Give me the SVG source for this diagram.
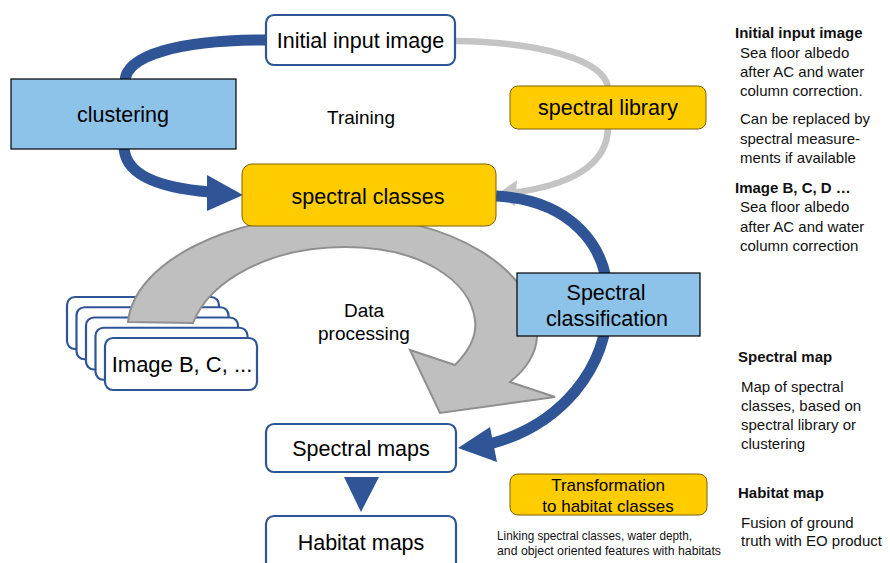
<svg xmlns="http://www.w3.org/2000/svg" width="890" height="563" viewBox="0 0 890 563">
<style>
.t{font-family:"Liberation Sans",Arial,sans-serif;fill:#000;text-anchor:middle}
.big{font-size:21.5px}
.mid{font-size:19px}
.side{font-family:"Liberation Sans",Arial,sans-serif;font-size:15px;fill:#111}
.b{font-weight:bold}
.wbox{fill:#fff;stroke:#2F5597;stroke-width:2.2}
.ybox{fill:#FFCC00;stroke:#7F6000;stroke-width:1}
.lbox{fill:#8DC3E8;stroke:#000;stroke-width:1.2}
.blue{fill:none;stroke:#2F5597;stroke-width:11}
.gray{fill:none;stroke:#C4C4C4;stroke-width:6.5}
</style>
<rect width="890" height="563" fill="#fff"/>

<g id="connectors">
  <path class="blue" d="M266,40 C180,40 125,55 125,82"/>
  <path class="blue" d="M124,146 C124,175 160,188 210,192"/>
  <polygon points="207,175 243,195 207,211" fill="#2F5597"/>
  <path class="gray" d="M455,41 C540,42 605,60 608,88"/>
  <path class="gray" d="M608,127 C608,165 570,186 510,193"/>
  <polygon points="496,195 517,180 515,206" fill="#C4C4C4"/>
  <path class="blue" d="M496,196 C570,200 608,245 608,300 C608,370 560,425 490,444"/>
  <polygon points="458,448 490,427 497,462" fill="#2F5597"/>
  <polygon points="344,477 379,477 361,512" fill="#2F5597"/>
</g>

<g id="image-stack">
  <rect class="wbox" x="67" y="297" width="152" height="52" rx="8"/>
  <rect class="wbox" x="76.5" y="307.25" width="152" height="52" rx="8"/>
  <rect class="wbox" x="86" y="317.5" width="152" height="52" rx="8"/>
  <rect class="wbox" x="95.5" y="327.75" width="152" height="52" rx="8"/>
  <rect class="wbox" x="105" y="338" width="152" height="52" rx="8"/>
  <text class="t" font-size="22" x="182" y="371.5">Image B, C, ...</text>
</g>

<g id="data-processing">
  <path d="M128,322 C134,262 230,215 335,215 C450,215 540,270 537,337 C536,355 525,370 510,382 L555,397 L440,413 L410,350 L455,365 C470,350 477,335 475,320 C470,280 420,247 345,247 C270,247 210,280 193,323 Z" fill="#BFBFBF" stroke="#8F8F8F" stroke-width="2" stroke-linejoin="miter"/>
  <text class="t mid" x="364" y="317">Data</text>
  <text class="t mid" x="364" y="340">processing</text>
</g>

<g id="initial-input-image">
  <rect class="wbox" x="266" y="15" width="189" height="50" rx="8"/>
  <text class="t big" x="360.5" y="47.5">Initial input image</text>
</g>

<g id="clustering">
  <rect class="lbox" x="11" y="79" width="225" height="70"/>
  <text class="t big" x="123" y="122">clustering</text>
</g>

<g id="training">
  <text class="t mid" x="361" y="123.5">Training</text>
</g>

<g id="spectral-library">
  <rect class="ybox" x="510" y="86" width="196" height="43" rx="8"/>
  <text class="t big" x="608" y="114.5">spectral library</text>
</g>

<g id="spectral-classes">
  <rect class="ybox" x="242" y="164" width="254" height="62" rx="10"/>
  <text class="t big" x="368" y="203.5">spectral classes</text>
</g>

<g id="spectral-classification">
  <rect class="lbox" x="517" y="273" width="183" height="63"/>
  <text class="t big" x="606" y="299.5">Spectral</text>
  <text class="t big" x="607" y="325.5">classification</text>
</g>

<g id="spectral-maps">
  <rect class="wbox" x="266" y="424" width="190" height="48" rx="8"/>
  <text class="t big" x="361" y="455.5">Spectral maps</text>
</g>

<g id="habitat-maps">
  <rect class="wbox" x="266" y="516" width="190" height="60" rx="8"/>
  <text class="t big" x="361" y="549.5">Habitat maps</text>
</g>

<g id="transformation">
  <rect class="ybox" x="510" y="474" width="197" height="41" rx="8"/>
  <text class="t" font-size="17" x="608" y="491">Transformation</text>
  <text class="t" font-size="17" x="608" y="512">to habitat classes</text>
  <text class="side" x="497" y="540" textLength="195" lengthAdjust="spacingAndGlyphs" style="font-size:12px">Linking spectral classes, water depth,</text>
  <text class="side" x="497" y="555" textLength="224" lengthAdjust="spacingAndGlyphs" style="font-size:12px">and object oriented features with habitats</text>
</g>

<g id="notes">
  <text class="side b" x="735" y="38">Initial input image</text>
  <text class="side" x="740" y="58">Sea floor albedo</text>
  <text class="side" x="740" y="77">after AC and water</text>
  <text class="side" x="740" y="96">column correction.</text>
  <text class="side" x="740" y="124">Can be replaced by</text>
  <text class="side" x="740" y="144">spectral measure-</text>
  <text class="side" x="740" y="163">ments if available</text>
  <text class="side b" x="735" y="193">Image B, C, D …</text>
  <text class="side" x="740" y="212">Sea floor albedo</text>
  <text class="side" x="740" y="232">after AC and water</text>
  <text class="side" x="740" y="251">column correction</text>
  <text class="side b" x="738" y="362">Spectral map</text>
  <text class="side" x="741" y="392">Map of spectral</text>
  <text class="side" x="741" y="411">classes, based on</text>
  <text class="side" x="741" y="430">spectral library or</text>
  <text class="side" x="741" y="449">clustering</text>
  <text class="side b" x="738" y="498">Habitat map</text>
  <text class="side" x="741" y="528">Fusion of ground</text>
  <text class="side" x="741" y="546">truth with EO product</text>
</g>
</svg>
